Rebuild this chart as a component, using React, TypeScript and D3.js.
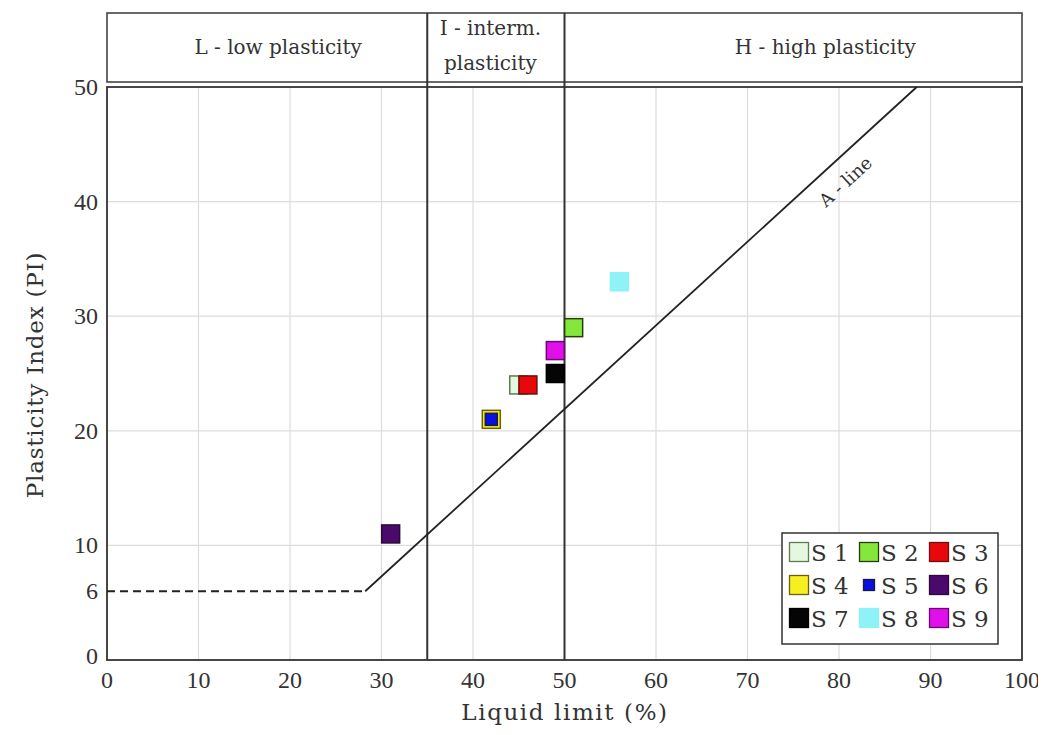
import * as d3 from "d3"

// soil samples: liquid limit (%) and plasticity index
const samples = ["S 1", "S 2", "S 3", "S 4", "S 5", "S 6", "S 7", "S 8", "S 9"]
const liquidLimit = [45, 51, 46, 42, 42, 31, 49, 56, 49]
const plasticityIdx = [24, 29, 24, 21, 21, 11, 25, 33, 27]
const fills = ["#e6f7df", "#84e83c", "#e8080c", "#f6f020", "#0a10e0", "#4a0a6c", "#050505", "#8ef2f6", "#e010ea"]
const strokes = ["#5d7a50", "#2a3a10", "#6a1010", "#6a6010", "#1a1a40", "#2a0a3a", "#000000", "#8ef2f6", "#6a0a70"]
const sizes = [18, 18, 18, 18, 12, 18, 18, 18, 18]

const xTicks = [0, 10, 20, 30, 40, 50, 60, 70, 80, 90, 100]
const yTicks = [0, 6, 10, 20, 30, 40, 50]
const yGrid = [10, 20, 30, 40]
// plasticity zones along the liquid limit, with where each caption sits
const zoneBounds = [35, 50]
const zoneLabels = [["L - low plasticity"], ["I - interm.", "plasticity"], ["H - high plasticity"]]
const zoneLabelAt = [18.7, 41.9, 78.5]

const W = 1046
const H = 735
const serif = "'DejaVu Serif', serif"
const numFont = "'Liberation Serif', serif"

export default function App() {
    const x = d3.scaleLinear().domain([0, 100]).range([107, 1022])
    const y = d3.scaleLinear().domain([0, 50]).range([660, 87])

    // A-line: PI = 0.73 (LL - 20), starting where PI = 6
    const aLine = (ll: number) => 0.73 * (ll - 20)
    const llStart = 20 + 6 / 0.73
    const llEnd = 20 + 50 / 0.73
    const line = d3.line<number>().x((d) => x(d)).y((d) => y(aLine(d)))
    const slopeDeg = (Math.atan2(y(aLine(80)) - y(aLine(70)), x(80) - x(70)) * 180) / Math.PI

    const headTop = 13
    const headBottom = 82

    return (
        <svg width={W} height={H} style={{ display: "block", margin: -8 }}>
            <rect width={W} height={H} fill="#fff" />
            {/* grid */}
            {xTicks.slice(1, -1).map((t) => (
                <line key={"gx" + t} x1={x(t)} x2={x(t)} y1={y(0)} y2={y(50)} stroke="#dcdcdc" strokeWidth={1.2} />
            ))}
            {yGrid.map((t) => (
                <line key={"gy" + t} x1={x(0)} x2={x(100)} y1={y(t)} y2={y(t)} stroke="#dcdcdc" strokeWidth={1.2} />
            ))}

            {/* header zones */}
            <rect x={x(0)} y={headTop} width={x(100) - x(0)} height={headBottom - headTop} fill="none" stroke="#444" strokeWidth={1.6} />
            {zoneLabels.map((lines, zi) => {
                const cx = x(zoneLabelAt[zi])
                const cy = (headTop + headBottom) / 2
                const off = lines.length > 1 ? 5 : 6
                return (
                    <text key={lines[0]} x={cx} textAnchor="middle" fontFamily={serif} fontSize={20} fill="#333">
                        {lines.map((l, i) => (
                            <tspan key={l} x={cx} y={cy + off + (i - (lines.length - 1) / 2) * 35}>{l}</tspan>
                        ))}
                    </text>
                )
            })}
            {zoneBounds.map((b) => (
                <line key={"b" + b} x1={x(b)} x2={x(b)} y1={headTop} y2={y(0)} stroke="#333" strokeWidth={2} />
            ))}

            {/* plot frame */}
            <rect x={x(0)} y={y(50)} width={x(100) - x(0)} height={y(0) - y(50)} fill="none" stroke="#333" strokeWidth={1.8} />

            {/* A-line */}
            <line x1={x(0)} x2={x(llStart)} y1={y(6)} y2={y(6)} stroke="#222" strokeWidth={1.8} strokeDasharray="8 5" />
            <path d={line([llStart, llEnd]) as string} stroke="#222" strokeWidth={1.8} fill="none" />
            <text transform={`translate(${x(79.1)},${y(aLine(79.1))}) rotate(${slopeDeg})`} y={28} textAnchor="middle"
                fontFamily={serif} fontSize={18} fill="#333">A - line</text>

            {/* samples */}
            {samples.map((s, i) => (
                <rect key={s} x={x(liquidLimit[i]) - sizes[i] / 2} y={y(plasticityIdx[i]) - sizes[i] / 2}
                    width={sizes[i]} height={sizes[i]} fill={fills[i]} stroke={strokes[i]} strokeWidth={1.5} />
            ))}

            {/* ticks */}
            {xTicks.map((t) => (
                <text key={"xt" + t} x={x(t)} y={y(0) + 28} textAnchor="middle" fontFamily={numFont} fontSize={24} fill="#333">{t}</text>
            ))}
            {yTicks.map((t) => (
                <text key={"yt" + t} x={x(0) - 9} y={y(t) + 8 - (t === 0 ? 4 : 0)} textAnchor="end" fontFamily={numFont} fontSize={24} fill="#333">{t}</text>
            ))}

            {/* axis titles */}
            <text x={565} y={720} textAnchor="middle" fontFamily={serif} fontSize={23} letterSpacing={1.6} fill="#333">Liquid limit (%)</text>
            <text transform={`translate(43,375) rotate(-90)`} textAnchor="middle" fontFamily={serif} fontSize={23} letterSpacing={0.8} fill="#333">Plasticity Index (PI)</text>

            {/* legend */}
            <g transform="translate(782,533)">
                <rect width={216} height={111} fill="#fff" stroke="#333" strokeWidth={1.5} />
                {samples.map((s, i) => {
                    const col = i % 3
                    const row = Math.floor(i / 3)
                    const lx = 6 + col * 70
                    const ly = 19 + row * 33
                    const sz = i === 4 ? 11 : 19
                    return (
                        <g key={"lg" + s}>
                            <rect x={lx + 11 - sz / 2} y={ly - sz / 2} width={sz} height={sz} fill={fills[i]} stroke={strokes[i]} strokeWidth={1.3} />
                            <text x={lx + 23} y={ly + 9} fontFamily={serif} fontSize={23} fill="#333">{s}</text>
                        </g>
                    )
                })}
            </g>
        </svg>
    )
}
